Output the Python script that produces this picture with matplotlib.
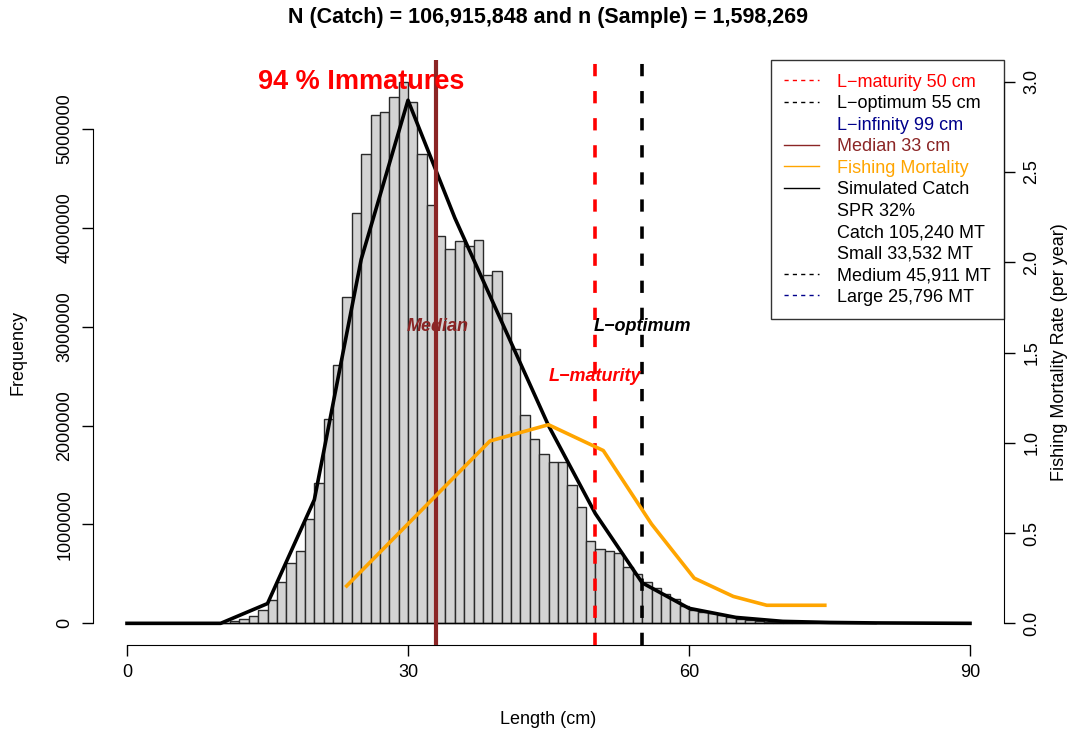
import numpy as np
import matplotlib
matplotlib.use("Agg")
import matplotlib.pyplot as plt
from matplotlib.lines import Line2D

plt.rcParams['font.family'] = ['Liberation Sans', 'DejaVu Sans']

# length bins (1 cm) and catch frequency per bin
bin_start = np.arange(10, 80)
freq = [8e3, 20e3, 40e3, 75e3, 130e3, 240e3, 420e3, 610e3, 736e3, 1.06e6,
        1.42e6, 2.07e6, 2.61e6, 3.30e6, 4.15e6, 4.75e6, 5.14e6, 5.17e6, 5.32e6, 5.478e6,
        5.27e6, 4.75e6, 4.23e6, 3.92e6, 3.79e6, 3.87e6, 3.82e6, 3.88e6, 3.52e6, 3.56e6,
        3.14e6, 2.77e6, 2.11e6, 1.86e6, 1.71e6, 1.63e6, 1.63e6, 1.40e6, 1.18e6, 0.83e6,
        0.75e6, 0.73e6, 0.71e6, 0.57e6, 0.50e6, 0.42e6, 0.36e6, 0.30e6, 0.25e6, 0.18e6,
        0.135e6, 0.118e6, 0.10e6, 0.088e6, 0.06e6, 0.04e6, 0.03e6, 0.024e6, 0.017e6, 0.013e6,
        0.009e6, 0.007e6, 0.005e6, 0.004e6, 0.003e6, 0.002e6, 0.0015e6, 0.001e6, 0.0008e6, 0.0005e6]

# simulated catch curve
sim_len = [0, 5, 10, 15, 20, 25, 30, 35, 40, 45, 50, 55, 60, 65, 70, 75, 80, 85, 90]
sim_catch = [0, 0, 0, 0.2e6, 1.25e6, 3.68e6, 5.29e6, 4.1e6, 3.05e6, 2.0e6, 1.11e6,
             0.41e6, 0.152e6, 0.06e6, 0.02e6, 0.009e6, 0.004e6, 0.002e6, 0.0]

# fishing mortality at length
f_len = [23.45, 38.75, 45.0, 50.85, 56.0, 60.56, 64.73, 68.3, 74.5]
f_rate = [0.207, 1.01, 1.10, 0.957, 0.55, 0.25, 0.149, 0.10, 0.10]

l_mat, l_opt, l_inf, med = 50, 55, 99, 33
col_med = '#8B2525'
col_blue = '#00008B'

fig = plt.figure(figsize=(10.72, 7.35), dpi=100)
ax = fig.add_axes([93/1072, 90/735, (1004-93)/1072, 585/735])
ax2 = ax.twinx()

ax.bar(bin_start, freq, width=1, align='edge', color='#D3D3D3',
       edgecolor='#2a2a2a', linewidth=1.0, zorder=1)
ax.plot([10, 80], [0, 0], color='black', lw=1, zorder=1.5)
ax.plot(sim_len, sim_catch, color='black', lw=2.6, zorder=3)
ax.axvline(med, color=col_med, lw=3, zorder=3)
ax.axvline(l_mat, color='red', lw=2.6, dashes=(3.4, 4.1), zorder=3)
ax.axvline(l_opt, color='black', lw=2.6, dashes=(3.4, 4.1), zorder=3)

fmax = max(freq)
ax.text(25, fmax, '94 % Immatures', color='red', fontsize=19.5,
        fontweight='bold', ha='center', va='center', zorder=5)
ax.text(med + 0.2, 3e6, 'Median', color=col_med, fontsize=13, fontweight='bold',
        style='italic', ha='center', va='center', zorder=5)
ax.text(l_opt, 3e6, 'L\u2212optimum', color='black', fontsize=13, fontweight='bold',
        style='italic', ha='center', va='center', zorder=5)
ax.text(l_mat, 2.5e6, 'L\u2212maturity', color='red', fontsize=13, fontweight='bold',
        style='italic', ha='center', va='center', zorder=5)

ax2.plot(f_len, f_rate, color='orange', lw=2.6, zorder=4)

ax.set_xlim(-3.63, 93.63)
ax.set_ylim(-0.04 * fmax, 1.04 * fmax)
ax2.set_ylim(-0.12, 3.12)

for a in (ax, ax2):
    a.spines['top'].set_visible(False)
    a.patch.set_visible(False)
ax.spines['right'].set_visible(False)
ax2.spines['left'].set_visible(False)
ax2.spines['bottom'].set_visible(False)
ax.spines['bottom'].set_bounds(0, 90)
ax.spines['left'].set_bounds(0, 5e6)
ax2.spines['right'].set_bounds(0, 3)

ax.set_xticks([0, 30, 60, 90])
ax.set_yticks(np.arange(0, 5e6 + 1, 1e6))
ax.set_yticklabels(['%d' % v for v in np.arange(0, 5e6 + 1, 1e6)], rotation=90, va='center')
ax2.set_yticks(np.arange(0, 3.01, 0.5))
ax2.set_yticklabels(['%.1f' % v for v in np.arange(0, 3.01, 0.5)], rotation=90, va='center')
ax.tick_params(axis='both', labelsize=13, length=8, width=1, pad=6)
ax2.tick_params(axis='y', labelsize=13, length=8, width=1, pad=6)

fig.text(548 / 1072, 1 - 720 / 735, 'Length (cm)', ha='center', va='center', fontsize=13)
fig.text(18 / 1072, 1 - 352 / 735, 'Frequency', ha='center', va='center', fontsize=13, rotation=90)
fig.text(1060 / 1072, 1 - 352 / 735, 'Fishing Mortality Rate (per year)', ha='center',
         va='center', fontsize=13, rotation=90)
fig.text(548 / 1072, 1 - 18 / 735, 'N (Catch) = 106,915,848 and n (Sample) = 1,598,269',
         ha='center', va='center', fontsize=15.5, fontweight='bold')

handles = [
    Line2D([], [], color='red', lw=1, dashes=(3, 3)),
    Line2D([], [], color='black', lw=1, dashes=(3, 3)),
    Line2D([], [], linestyle='none'),
    Line2D([], [], color=col_med, lw=1),
    Line2D([], [], color='orange', lw=1),
    Line2D([], [], color='black', lw=1),
    Line2D([], [], linestyle='none'),
    Line2D([], [], linestyle='none'),
    Line2D([], [], linestyle='none'),
    Line2D([], [], color='black', lw=1, dashes=(3, 3)),
    Line2D([], [], color=col_blue, lw=1, dashes=(3, 3)),
]
labels = ['L\u2212maturity %d cm' % l_mat, 'L\u2212optimum %d cm' % l_opt,
          'L\u2212infinity %d cm' % l_inf, 'Median %d cm' % med, 'Fishing Mortality',
          'Simulated Catch', 'SPR 32%', 'Catch 105,240 MT', 'Small 33,532 MT',
          'Medium 45,911 MT', 'Large 25,796 MT']
text_cols = ['red', 'black', col_blue, col_med, 'orange', 'black',
             'black', 'black', 'black', 'black', 'black']
leg = ax2.legend(handles, labels, loc='upper right', bbox_to_anchor=(1, 1),
                 borderaxespad=0, fontsize=13, frameon=True, fancybox=False,
                 handlelength=1.9, handletextpad=1.0, labelspacing=0.25,
                 borderpad=0.75)
leg.get_frame().set_edgecolor('black')
leg.get_frame().set_linewidth(1)
for t, c in zip(leg.get_texts(), text_cols):
    t.set_color(c)
leg.set_zorder(10)

fig.savefig('out.png', dpi=100)
